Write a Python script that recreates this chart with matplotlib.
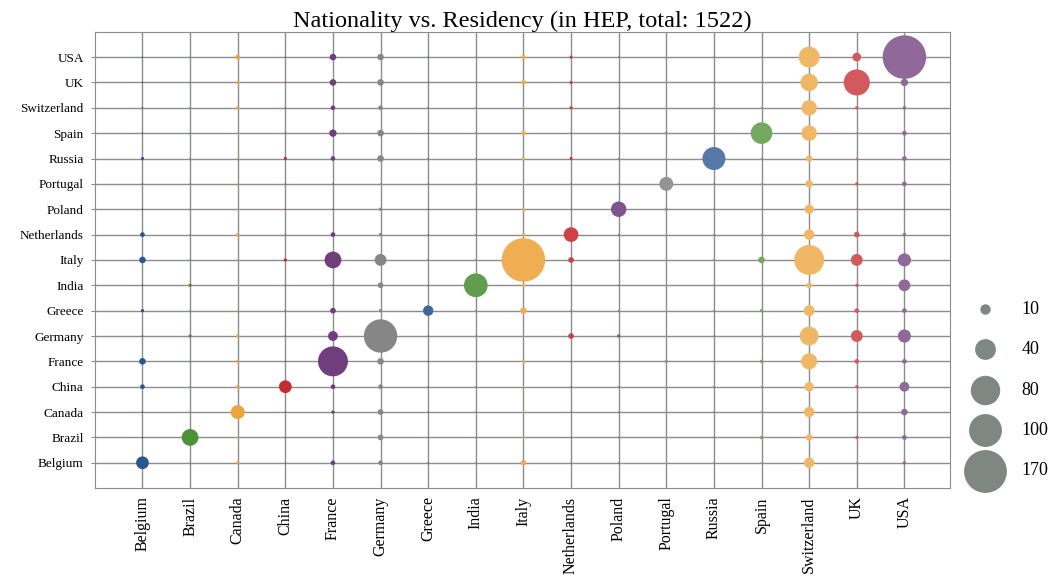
import matplotlib
matplotlib.use("Agg")
import matplotlib.pyplot as plt
import numpy as np
from matplotlib.colors import to_rgb

plt.rcParams["font.family"] = ["Liberation Serif", "DejaVu Serif"]

countries = ["Belgium", "Brazil", "Canada", "China", "France", "Germany", "Greece",
             "India", "Italy", "Netherlands", "Poland", "Portugal", "Russia", "Spain",
             "Switzerland", "UK", "USA"]

# rows = nationality (Belgium .. USA), columns = residency (same order)
counts = [
    [15, 0, 1, 0, 2, 2, 0, 0, 3, 0, 0, 0, 0, 0, 10, 0, 1],      # Belgium
    [0, 26, 0, 0, 0, 3, 0, 0, 0, 0, 0, 0, 0, 1, 4, 1, 2],       # Brazil
    [0, 0, 18, 0, 1, 3, 0, 0, 0, 0, 0, 0, 0, 0, 10, 0, 4],      # Canada
    [2, 0, 1, 15, 2, 2, 0, 0, 0, 0, 0, 0, 0, 0, 8, 1, 9],       # China
    [4, 0, 1, 0, 83, 4, 0, 0, 1, 0, 0, 1, 0, 1, 24, 2, 2],      # France
    [0, 1, 1, 0, 9, 103, 0, 0, 0, 3, 1, 0, 0, 0, 33, 13, 16],   # Germany
    [1, 0, 0, 0, 3, 1, 10, 0, 4, 0, 0, 0, 0, 1, 11, 2, 2],      # Greece
    [0, 1, 0, 0, 0, 3, 0, 52, 1, 0, 0, 0, 0, 0, 3, 1, 13],      # India
    [4, 0, 0, 1, 26, 13, 0, 0, 175, 3, 0, 0, 0, 4, 83, 13, 16], # Italy
    [2, 0, 1, 0, 2, 1, 0, 0, 1, 20, 0, 0, 0, 0, 10, 3, 1],      # Netherlands
    [0, 0, 0, 0, 0, 1, 0, 0, 1, 0, 22, 1, 0, 0, 8, 0, 0],       # Poland
    [0, 0, 0, 0, 0, 0, 0, 0, 0, 0, 0, 18, 0, 0, 5, 1, 2],       # Portugal
    [1, 0, 0, 1, 2, 4, 0, 0, 1, 1, 0, 0, 49, 0, 4, 0, 2],       # Russia
    [0, 0, 0, 0, 5, 4, 0, 0, 2, 0, 0, 1, 0, 43, 22, 0, 2],      # Spain
    [0, 0, 1, 0, 2, 2, 0, 0, 0, 1, 0, 0, 0, 0, 22, 1, 1],       # Switzerland
    [0, 0, 1, 0, 4, 4, 0, 0, 2, 1, 0, 0, 0, 0, 28, 63, 5],      # UK
    [0, 0, 2, 0, 4, 4, 0, 0, 2, 1, 0, 0, 0, 0, 40, 7, 175],     # USA
]

legend_values = [10, 40, 80, 100, 170]

base_colors = ["#2a5592", "#4a8f33", "#eba135", "#c21f26", "#652f73", "#7a7a7a"]
scale = 5.6  # marker area (pt^2) per person

fig = plt.figure(figsize=(10.54, 5.77), dpi=100)
ax = fig.add_axes([0.090, 0.154, 0.811, 0.791])

counts = np.array(counts)
n = len(countries)
for j in range(n):
    alpha = 1.0 - 0.0175 * j
    rgb = np.array(to_rgb(base_colors[j % len(base_colors)]))
    col = 1 - (1 - rgb) * alpha
    sizes = np.maximum(counts[:, j] * scale, 1.0)
    ax.scatter(np.full(n, j), np.arange(n), s=sizes, color=col,
               linewidths=0, zorder=3)

ax.set_xticks(range(n))
ax.set_xticklabels(countries, rotation=90, fontsize=11.5)
ax.set_yticks(range(n))
ax.set_yticklabels(countries, fontsize=9.5)
ax.set_xlim(-1, 16.95)
ax.set_ylim(-1, 17)
ax.grid(True, color="#8a8d8c", linewidth=1.0)
ax.set_axisbelow(True)
for sp in ax.spines.values():
    sp.set_color("#8a8d8c")
ax.tick_params(axis="x", length=0, pad=6)
ax.tick_params(axis="y", length=3, color="#8a8d8c", pad=5)
ax.set_title("Nationality vs. Residency (in HEP, total: 1522)", fontsize=17.5, pad=3)

handles = [ax.scatter([], [], s=v * scale, color="#7f8783", linewidths=0)
           for v in legend_values]
ax.legend(handles, [str(v) for v in legend_values], loc="center left",
          bbox_to_anchor=(1.01, 0.215), frameon=False, fontsize=13,
          labelspacing=1.3, handletextpad=1.0, borderpad=0)

fig.savefig("out.png", dpi=100)
